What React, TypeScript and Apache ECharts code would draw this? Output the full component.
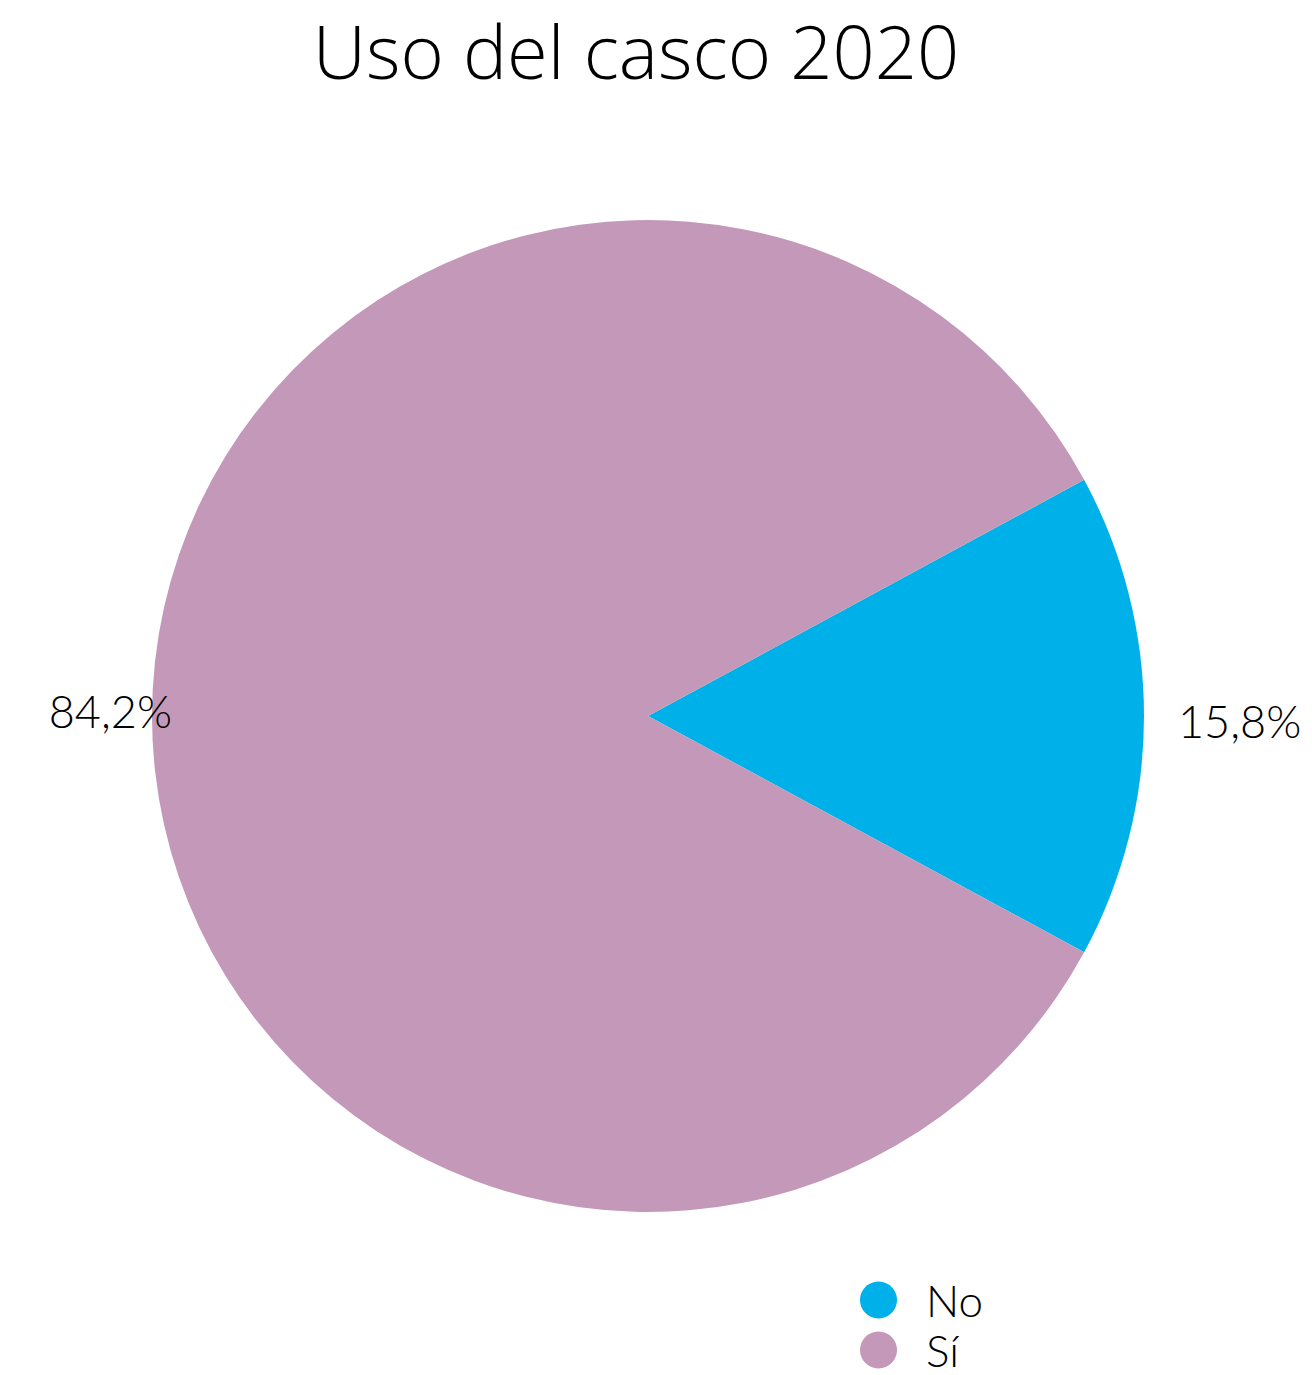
import React, { useEffect, useRef } from "react";
import * as echarts from "echarts";

const title = "Uso del casco 2020";
const categories = ["No", "Sí"];
const values = [15.8, 84.2];
const colors = ["#00B1E9", "#C398B8"];

export default function App() {
  const ref = useRef<HTMLDivElement>(null);
  useEffect(() => {
    document.body.style.margin = "0";
    const chart = echarts.init(ref.current!, null, { renderer: "svg" });
    const font = "Lato, 'Open Sans', sans-serif";
    chart.setOption({
      animation: false,
      title: {
        text: title,
        left: 631,
        textAlign: "center",
        top: 8,
        textStyle: { fontFamily: "'Open Sans', sans-serif", fontSize: 74, fontWeight: 300, color: "#000" },
      },
      legend: {
        orient: "vertical",
        left: 860,
        top: 1278,
        height: 95,
        padding: 0,
        itemWidth: 37,
        itemHeight: 37,
        itemGap: 6,
        icon: "circle",
        data: categories,
        textStyle: { fontFamily: font, fontSize: 44, lineHeight: 37, fontWeight: 300, color: "#000", padding: [0, 0, 0, 24] },
      },
      series: [
        {
          type: "pie",
          center: [648, 716],
          radius: 496,
          startAngle: (values[0] / (values[0] + values[1])) * 180,
          clockwise: true,
          label: {
            show: true,
            position: "outside",
            overflow: "none",
            formatter: (p: any) => p.value.toFixed(1).replace(".", ",") + "%",
            fontFamily: font,
            fontSize: 45,
            fontWeight: 300,
            color: "#000",
            distanceToLabelLine: 14,
          },
          labelLine: { show: false, length: 20, length2: 0 },
          emphasis: { disabled: true },
          data: categories.map((c, i) => ({
            name: c,
            value: values[i],
            itemStyle: { color: colors[i] },
            label: i === 1 ? { offset: [54, -5] } : { offset: [0, 5] },
          })),
        },
      ],
    });
    return () => chart.dispose();
  }, []);
  return <div ref={ref} style={{ width: 1312, height: 1375 }} />;
}
